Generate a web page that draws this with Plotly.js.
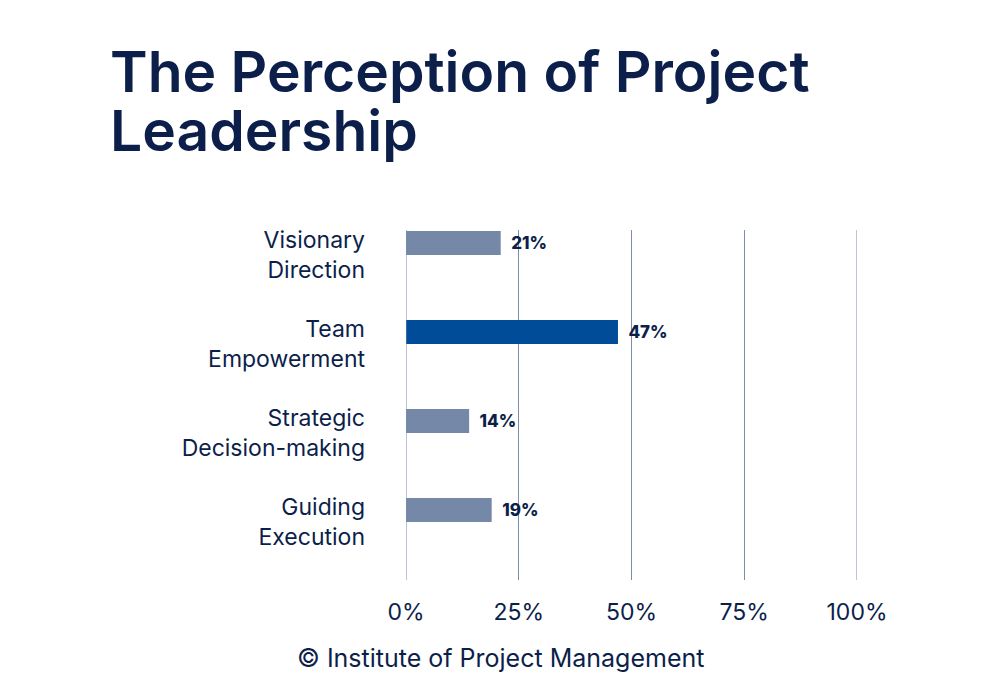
<!DOCTYPE html>
<html>
<head>
<meta charset="utf-8">
<script src="https://cdn.plot.ly/plotly-3.0.1.min.js"></script>
<style>
  html, body { margin: 0; padding: 0; background: #fff; }
  #plot { width: 1000px; height: 700px; }
</style>
</head>
<body>
<div id="plot"></div>
<script>
const CATEGORIES = ['Visionary<br>Direction', 'Team<br>Empowerment', 'Strategic<br>Decision-making', 'Guiding<br>Execution'];
const VALUES = [21, 47, 14, 19];
const BAR_COLORS = ['#7588a7', '#004c99', '#7588a7', '#7588a7'];
const X_TICKS = [0, 25, 50, 75, 100];
const X_TICK_LABELS = ['0%', '25%', '50%', '75%', '100%'];
const TITLE_LINES = ['The Perception of Project', 'Leadership'];

const NAVY = '#0c1f4b';
const GRID = '#7d8db0';
const FONT = 'Inter, "Open Sans", sans-serif';

// plot box in page pixels, used to place the page-level texts
const PLOT_L = 406, PLOT_W = 451, PLOT_T = 230, PLOT_H = 350;
const pxX = px => (px - PLOT_L) / PLOT_W;
const pxY = py => (PLOT_T + PLOT_H - py) / PLOT_H;

const trace = {
  type: 'bar',
  orientation: 'h',
  x: VALUES,
  y: CATEGORIES,
  width: 0.27,
  offset: -0.27,
  marker: {color: BAR_COLORS},
  text: VALUES.map(v => '\u00a0\u00a0' + v + '%'),
  textposition: 'outside',
  cliponaxis: false,
  textfont: {family: FONT, size: 17, color: NAVY, weight: 800},
  hoverinfo: 'skip'
};

let titleNotes = TITLE_LINES.map((line, i) => ({
  text: line,
  xref: 'paper', yref: 'paper',
  x: pxX(108), y: pxY(71 + i * 60),
  xanchor: 'left', yanchor: 'middle',
  showarrow: false,
  font: {family: FONT, size: 57, color: NAVY, weight: 600}
}));

// edge gridlines (0% and 100%) are hidden by plotly at the range ends
let edgeLines = [X_TICKS[0], X_TICKS[X_TICKS.length - 1]].map(v => ({
  type: 'line', xref: 'x', yref: 'paper', x0: v, x1: v, y0: 0, y1: 1,
  line: {color: GRID, width: 1}
}));

const layout = {
  width: 1000,
  height: 700,
  margin: {l: PLOT_L, r: 1000 - PLOT_L - PLOT_W, t: PLOT_T, b: 700 - PLOT_T - PLOT_H},
  paper_bgcolor: '#ffffff',
  plot_bgcolor: '#ffffff',
  showlegend: false,
  font: {family: FONT, color: NAVY},
  xaxis: {
    range: [0, 100],
    tickvals: X_TICKS,
    ticktext: X_TICK_LABELS,
    showgrid: true,
    gridcolor: GRID,
    gridwidth: 1,
    zeroline: false,
    showline: false,
    ticks: '',
    ticklabelstandoff: 16,
    tickfont: {family: FONT, size: 23, color: NAVY},
    fixedrange: true
  },
  yaxis: {
    type: 'category',
    range: [3.65, -0.28],
    showgrid: false,
    zeroline: false,
    showline: false,
    ticks: '',
    ticklabelstandoff: 40,
    tickfont: {family: FONT, size: 23, color: NAVY},
    fixedrange: true
  },
  shapes: edgeLines,
  annotations: titleNotes.concat([
    {
      text: '© Institute of Project Management',
      xref: 'paper', yref: 'paper',
      x: pxX(500), y: pxY(658),
      xanchor: 'center', yanchor: 'middle',
      showarrow: false,
      font: {family: FONT, size: 25, color: NAVY}
    }
  ])
};

Plotly.newPlot('plot', [trace], layout, {displayModeBar: false, staticPlot: true});
</script>
</body>
</html>
